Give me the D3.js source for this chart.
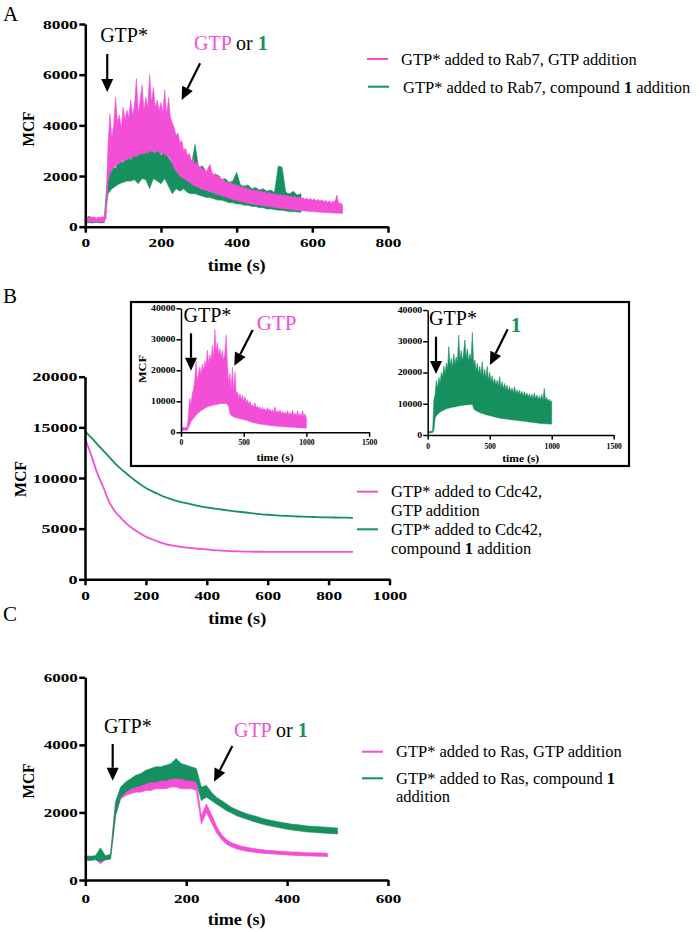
<!DOCTYPE html>
<html><head><meta charset="utf-8">
<script src="https://cdn.jsdelivr.net/npm/d3@7"></script>
<style>body{margin:0;background:#fff} svg text{font-family:"Liberation Serif","DejaVu Serif","Times New Roman",serif !important}</style>
</head><body>
<svg id="fig" width="700" height="932"></svg>
<script>
// ---------------- DATA ----------------
// Panel A (Rab7), noisy traces given as lower / upper envelope per sample
const A_step_pink = 5;   // s
const A_pink_lo = [180,200,170,210,190,180,200,210,170,190,210,320,
1800,2100,2200,2350,2400,2450,2500,2550,2600,2600,2650,2700,2700,2750,2800,2750,2850,2850,2900,2850,2950,2900,3000,2950,3000,2900,3000,2950,2900,2900,2850,2800,2750,2650,
2500,2300,2200,2100,2000,1950,1900,1850,1800,1760,
1700,1640,1600,1580,1550,1490,1480,1440,1430,1400,
1380,1340,1330,1290,1280,1240,1230,1190,1180,1140,
1130,1090,1080,1050,1040,1010,1000,980,970,940,
940,910,900,880,880,860,860,840,840,820,
820,790,790,770,770,750,750,730,730,710,
710,690,690,670,670,650,650,630,640,620,
620,610,610,600,600,590,590,575,580,565,
570,555,560,545,550,535,540,535,540,525,
530];
const A_pink_hi = [380,350,400,360,390,370,340,380,360,400,370,900,
3200,4450,3500,4000,5100,4100,4400,3900,4700,4200,4600,4300,5000,4400,4800,5850,4500,5000,5600,4600,5100,4700,6000,4900,5500,4700,5000,4600,4900,4500,5400,4400,5100,4300,
4100,3900,3600,3700,3300,3400,3000,3100,2800,2900,
2600,2700,2450,2550,2350,2400,2250,2300,2150,2350,
2450,2100,2050,2100,1950,2000,1850,1900,1750,1800,
1700,1750,1650,1700,1600,1650,1550,1600,1500,1550,
1450,1500,1420,1480,1400,1450,1380,1420,1350,1400,
1300,1380,1280,1330,1250,1300,1230,1280,1210,1260,
1190,1240,1170,1220,1150,1200,1130,1180,1100,1150,
1080,1130,1060,1120,1040,1100,1020,1080,1000,1060,
980,1040,960,1020,940,1000,1000,1250,900,950,
850];
const A_step_green = 10; // s
const A_green_lo = [150,160,150,170,150,160,1300,1500,1600,1700,1750,1800,1800,1850,1700,1900,1850,1500,1900,1800,1700,1900,1600,1300,1500,1400,1500,1350,1300,1300,1250,1200,1150,1150,1100,1050,1050,1000,950,950,900,900,850,850,800,800,750,750,700,700,680,650,650,620,600,600,580,570];
const A_green_hi = [300,420,320,300,310,330,2200,2400,2300,2700,2500,3000,2600,3100,2800,3700,3000,3300,2900,3500,2800,3000,2700,2500,2600,2400,2900,2300,2400,3250,2300,2400,2100,2250,2000,2050,1850,1900,1750,1800,2150,1650,1600,1650,1500,1550,1450,1500,1400,1450,1350,2400,2350,1350,1300,1400,1250,1300];

// Panel B main (Cdc42), smooth traces
const B_step = 20; // s
const B_pink  = [13900,12300,10500,9100,7600,6650,6000,5400,4950,4550,4200,3950,3720,3520,3380,3270,3180,3110,3050,3000,2950,2890,2850,2810,2780,2760,2740,2730,2720,2720,2710,2710,2700,2700,2700,2700,2700,2700,2700,2700,2700,2700,2700,2700,2700];
const B_green = [14600,14000,13350,12700,12050,11400,10850,10350,9850,9400,9020,8700,8420,8150,7930,7750,7600,7460,7330,7210,7100,7010,6920,6840,6760,6690,6620,6560,6480,6410,6370,6330,6290,6260,6230,6200,6180,6160,6140,6120,6110,6100,6090,6080,6070];

// Panel B insets (step 10 s)
const INS_step = 10;
const INS_pink_lo = [600,700,500,800,600,700,1500,2500,3500,4000,4500,5000,5500,6000,6300,6600,7000,7200,7500,7800,8000,8200,8300,8500,8600,8700,8800,8900,9000,9000,9100,9200,9200,9300,9300,9350,9300,9000,8300,6000,5500,5200,5000,4800,4700,4600,4500,4400,4300,4200,4100,4000,3900,3800,3600,3500,3300,3200,3100,3000,2900,2800,2700,2700,2600,2500,2500,2400,2400,2300,2300,2200,2200,2100,2100,2000,2000,2000,1900,1900,1900,1800,1800,1800,1700,1700,1700,1700,1600,1600,1600,1600,1500,1500,1500,1500,1400,1400,1400,1400,1300];
const INS_pink_hi = [1500,1300,1700,1400,1800,1500,6000,11000,9000,12500,14000,17000,22800,16500,19000,21000,18500,22000,20000,23000,21000,26500,22000,25000,23000,28000,24000,33200,26000,29000,25000,27000,24000,26500,23000,25500,31400,22000,15800,19000,14000,21000,13000,19600,12500,13000,11000,12500,10500,12000,10000,11500,9500,10500,9000,10000,8500,9000,8000,9500,7800,8500,7500,8200,7000,8000,7200,7600,6800,8000,6900,7500,6500,7300,6400,8200,6300,7000,6200,7200,6000,6800,5900,6500,5800,7000,5600,6400,5500,7200,5400,6200,5300,6900,5200,6000,5100,7000,5000,6000,4500];
const INS_green_lo = [700,800,600,700,800,1500,5500,6200,6600,7000,7300,7600,7800,8000,8200,8400,8500,8600,8700,8800,8900,9000,9000,9100,9200,9300,9400,9400,9500,9500,9600,9600,9700,9700,9800,9800,9900,8500,8000,7800,7600,7400,7200,7000,6900,6800,6600,6500,6400,6300,6200,6100,6000,5900,5800,5700,5600,5500,5400,5400,5300,5200,5200,5100,5100,5000,5000,4900,4900,4800,4800,4700,4700,4600,4600,4500,4500,4400,4400,4300,4300,4200,4200,4100,4100,4000,4000,3900,3900,3800,3800,3700,3700,3700,3600,3600,3600,3500,3500,3500,3500];
const INS_green_hi = [1200,1000,1300,1100,1400,11200,13000,17500,15000,18450,16500,20000,18500,22000,19500,23000,21000,28300,22000,24500,21500,26000,22500,25000,23000,32000,24000,27000,23500,26500,30400,24500,27500,23500,26000,24000,32800,22500,24000,20500,23000,19500,22000,19000,23500,18500,21000,18000,22000,17500,20000,17000,19000,16500,18000,16000,17500,15500,18700,15000,17000,14800,16500,14500,16000,14000,15500,13800,15000,13500,15500,13300,14500,13000,14400,12800,14000,12500,13800,12300,13500,12000,13200,11800,13000,11600,13500,11500,12800,11300,12500,11200,13000,11000,14900,11000,12000,10800,11500,10500,11000];

// Panel C (Ras), step 10 s
const C_step = 10;
const C_pink_lo = [600,580,610,480,600,620,1900,2400,2500,2550,2600,2600,2650,2650,2700,2700,2700,2750,2750,2700,2700,2700,2650,1650,2000,1700,1400,1200,1060,980,920,880,850,830,810,790,780,770,760,750,740,730,720,720,710,710,700,700,690];
const C_pink_hi = [720,700,700,800,700,750,2300,2700,2800,2800,2850,2900,2950,2950,3000,2950,3000,3050,3000,3050,3000,3000,2950,1900,2250,1950,1600,1350,1200,1100,1050,1000,970,940,920,900,880,870,860,850,840,830,830,820,810,810,800,800,790];
const C_green_lo = [600,580,600,550,600,620,1900,2450,2600,2700,2750,2800,2850,2900,2900,2950,2950,3000,3000,3000,2950,2950,2900,2350,2450,2350,2250,2150,2050,1980,1900,1850,1800,1750,1700,1660,1620,1590,1560,1530,1500,1480,1460,1440,1420,1410,1400,1390,1380,1370,1360];
const C_green_hi = [720,700,720,950,720,760,2300,2750,2900,3000,3100,3150,3250,3300,3350,3350,3400,3450,3600,3450,3400,3350,3300,2750,2800,2600,2450,2350,2250,2150,2080,2020,1960,1920,1880,1830,1790,1760,1730,1700,1680,1650,1640,1620,1600,1590,1580,1570,1560,1550,1540];

// Tick values
const A_xTicks = [0,200,400,600,800],  A_yTicks = [0,2000,4000,6000,8000];
const B_xTicks = [0,200,400,600,800,1000], B_yTicks = [0,5000,10000,15000,20000];
const INS_xTicks = [0,500,1000,1500], INS_yTicks = [0,10000,20000,30000,40000];
const C_xTicks = [0,200,400,600], C_yTicks = [0,2000,4000,6000];

// ---------------- DRAWING ----------------
const SERIF = '"Liberation Serif","DejaVu Serif","Times New Roman",serif';
const PINK = "#f24fd6", GREEN = "#17905f";
const svg = d3.select("#fig");

function rows(lo, hi, step){
  const n = Math.min(lo.length, hi.length);
  return d3.range(n).map(i=>({t:i*step, lo:lo[i], hi:hi[i]}));
}

function axes(o){
  const g = svg.append("g");
  const fmt = d3.format("d");
  const xa = g.append("g").attr("transform",`translate(0,${o.sy.range()[0]})`)
    .call(d3.axisBottom(o.sx).tickValues(o.xTicks).tickSize(o.tick).tickSizeOuter(0).tickPadding(o.xPad).tickFormat(fmt));
  const ya = g.append("g").attr("transform",`translate(${o.sx.range()[0]},0)`)
    .call(d3.axisLeft(o.sy).tickValues(o.yTicks).tickSize(o.tick).tickSizeOuter(0).tickPadding(o.yPad).tickFormat(fmt));
  [[xa,o.xdw],[ya,o.ydw]].forEach(([a,dw])=>{
    a.attr("font-family",null).attr("font-size",null);
    a.select(".domain").attr("stroke","#000").attr("stroke-width",o.sw);
    a.selectAll(".tick line").attr("stroke","#000").attr("stroke-width",o.sw);
    a.selectAll(".tick text").style("font-family",SERIF).attr("font-weight","bold")
      .attr("font-size",o.fs).attr("fill","#000")
      .attr("textLength",d=>fmt(d).length*dw).attr("lengthAdjust","spacingAndGlyphs");
  });
  const [x0,x1] = o.sx.range();
  if (o.xTitle) g.append("text").attr("x",(x0+x1)/2).attr("y",o.sy.range()[0]+o.xTitle.dy)
      .attr("text-anchor","middle").style("font-family",SERIF).attr("font-weight","bold")
      .attr("font-size",o.xTitle.fs).attr("textLength",o.xTitle.len).attr("lengthAdjust","spacingAndGlyphs").text("time (s)");
  if (o.yTitle) g.append("text").attr("transform",`translate(${o.yTitle.x},${o.yTitle.y}) rotate(-90)`)
      .attr("text-anchor","middle").attr("dominant-baseline","central").style("font-family",SERIF).attr("font-weight","bold")
      .attr("font-size",o.yTitle.fs).attr("textLength",o.yTitle.len).attr("lengthAdjust","spacingAndGlyphs").text("MCF");
  return g;
}

function band(sx, sy, data, color){
  const area = d3.area().x(d=>sx(d.t)).y0(d=>sy(d.lo)).y1(d=>sy(d.hi));
  svg.append("path").datum(data).attr("d",area).attr("fill",color)
     .attr("stroke",color).attr("stroke-width",0.6).attr("stroke-linejoin","round");
}

function arrow(x1,y1,x2,y2){
  const a = Math.atan2(y2-y1,x2-x1), hl=13, hw=6;
  const bx = x2-hl*Math.cos(a), by = y2-hl*Math.sin(a);
  svg.append("line").attr("x1",x1).attr("y1",y1).attr("x2",bx).attr("y2",by)
     .attr("stroke","#000").attr("stroke-width",2.2);
  svg.append("path").attr("d",`M${x2},${y2}L${bx+hw*Math.sin(a)},${by-hw*Math.cos(a)}L${bx-hw*Math.sin(a)},${by+hw*Math.cos(a)}Z`)
     .attr("fill","#000");
}

function richText(x, y, parts, fs, anchor){
  const t = svg.append("text").attr("x",x).attr("y",y).style("font-family",SERIF)
     .attr("font-size",fs).attr("text-anchor",anchor||"start").attr("fill","#000");
  parts.forEach(p=>{
    const s = t.append("tspan").text(p.t);
    if (p.c) s.attr("fill",p.c);
    if (p.b) s.attr("font-weight","bold");
  });
  return t;
}

function annotate(sx, sy, ann){
  richText(sx(ann.star.t), sy(ann.star.v), [{t:"GTP*"}], ann.fs, "middle");
  arrow(sx(ann.a1[0]),sy(ann.a1[1]),sx(ann.a1[2]),sy(ann.a1[3]));
  richText(sx(ann.add.t), sy(ann.add.v), ann.add.parts, ann.fs2||ann.fs, "middle");
  arrow(sx(ann.a2[0]),sy(ann.a2[1]),sx(ann.a2[2]),sy(ann.a2[3]));
}

function legendEntry(x1,x2,yLine,color,tx,lines){
  svg.append("line").attr("x1",x1).attr("x2",x2).attr("y1",yLine).attr("y2",yLine)
     .attr("stroke",color).attr("stroke-width",2);
  lines.forEach(l=>richText(tx,l.y,l.parts,16.5));
}

function letter(ch,x,y){
  svg.append("text").attr("x",x).attr("y",y).style("font-family",SERIF).attr("font-size",21).text(ch);
}

// ----- Panel A -----
{
  const sx = d3.scaleLinear([0,800],[85.3,388]);
  const sy = d3.scaleLinear([0,8000],[226.7,24]);
  band(sx, sy, rows(A_green_lo, A_green_hi, A_step_green), GREEN);
  band(sx, sy, rows(A_pink_lo, A_pink_hi, A_step_pink), PINK);
  axes({sx,sy,xTicks:A_xTicks,yTicks:A_yTicks,tick:6,sw:2.5,fs:12.5,xdw:8.6,ydw:8.7,xPad:5,yPad:1.5,
        xTitle:{dy:44.5,fs:16,len:58},yTitle:{x:28.8,y:129,fs:16.5,len:35}});
  annotate(sx, sy, {fs:20, star:{t:102.5,v:7290}, a1:[58,6815,58,5315],
     add:{t:384.8,v:6974,parts:[{t:"GTP",c:PINK},{t:" or "},{t:"1",c:GREEN,b:true}]}, a2:[303.5,6450,254.6,5000]});
  letter("A",3,21);
  legendEntry(367,388,59,PINK,401,[{y:65,parts:[{t:"GTP* added to Rab7, GTP addition"}]}]);
  legendEntry(368,389,86.7,GREEN,403,[{y:92.5,parts:[{t:"GTP* added to Rab7, compound "},{t:"1",b:true},{t:" addition"}]}]);
}

// ----- Panel B main -----
{
  const sx = d3.scaleLinear([0,1000],[85,389.5]);
  const sy = d3.scaleLinear([0,20000],[579.3,376.7]);
  const line = d3.line().x((d,i)=>sx(i*B_step)).y(d=>sy(d)).curve(d3.curveMonotoneX);
  svg.append("path").datum(B_green).attr("d",line).attr("fill","none").attr("stroke",GREEN).attr("stroke-width",1.8);
  svg.append("path").datum(B_pink).attr("d",line).attr("fill","none").attr("stroke",PINK).attr("stroke-width",1.8);
  axes({sx,sy,xTicks:B_xTicks,yTicks:B_yTicks,tick:6,sw:2.5,fs:12.5,xdw:8.6,ydw:9,xPad:6,yPad:1.5,
        xTitle:{dy:45,fs:16,len:58},yTitle:{x:20,y:479,fs:16.5,len:36}});
  letter("B",3,303);
  legendEntry(357,378,491.7,PINK,391,[{y:497,parts:[{t:"GTP* added to Cdc42,"}]},{y:516,parts:[{t:"GTP addition"}]}]);
  legendEntry(357,378,529.3,GREEN,391,[{y:534.5,parts:[{t:"GTP* added to Cdc42,"}]},{y:553.5,parts:[{t:"compound "},{t:"1",b:true},{t:" addition"}]}]);
}

// ----- Panel B insets -----
svg.append("rect").attr("x",131).attr("y",302).attr("width",498).attr("height",164)
   .attr("fill","#fff").attr("stroke","#000").attr("stroke-width",2.2);
{
  const sx = d3.scaleLinear([0,1500],[181,369.1]);
  const sy = d3.scaleLinear([0,40000],[432.3,308.3]);
  band(sx, sy, rows(INS_pink_lo, INS_pink_hi, INS_step), PINK);
  axes({sx,sy,xTicks:INS_xTicks,yTicks:INS_yTicks,tick:4.5,sw:1.5,fs:7.5,xdw:3.8,ydw:4.9,xPad:2.5,yPad:1,
        xTitle:{dy:29,fs:10.5,len:37},yTitle:{x:142.3,y:369,fs:11,len:28}});
  annotate(sx, sy, {fs:20, fs2:21, star:{t:211,v:35677}, a1:[79.7,31935,79.7,19870],
     add:{t:763,v:33000,parts:[{t:"GTP",c:PINK}]}, a2:[571.8,33000,425,21484]});
}
{
  const sx = d3.scaleLinear([0,1500],[427.7,613.7]);
  const sy = d3.scaleLinear([0,40000],[435,310]);
  band(sx, sy, rows(INS_green_lo, INS_green_hi, INS_step), GREEN);
  axes({sx,sy,xTicks:INS_xTicks,yTicks:INS_yTicks,tick:4.5,sw:1.5,fs:7.5,xdw:3.8,ydw:4.9,xPad:4.5,yPad:1,
        xTitle:{dy:27.3,fs:10.5,len:37}});
  annotate(sx, sy, {fs:20, fs2:21, star:{t:204,v:35200}, a1:[67,31456,67,19520],
     add:{t:712,v:33056,parts:[{t:"1",c:GREEN,b:true}]}, a2:[645,33824,502,22400]});
}

// ----- Panel C -----
{
  const sx = d3.scaleLinear([0,600],[85.3,388]);
  const sy = d3.scaleLinear([0,6000],[880,677.3]);
  band(sx, sy, rows(C_pink_lo, C_pink_hi, C_step), PINK);
  band(sx, sy, rows(C_green_lo, C_green_hi, C_step), GREEN);
  axes({sx,sy,xTicks:C_xTicks,yTicks:C_yTicks,tick:6,sw:2.5,fs:12.5,xdw:8.5,ydw:8.5,xPad:8,yPad:1.5,
        xTitle:{dy:45,fs:16,len:58},yTitle:{x:28.3,y:781,fs:16.5,len:35}});
  annotate(sx, sy, {fs:20, star:{t:84.3,v:4363}, a1:[54.3,4026,54.3,2940],
     add:{t:367.7,v:4224,parts:[{t:"GTP",c:PINK},{t:" or "},{t:"1",c:GREEN,b:true}]}, a2:[291.4,3967,255.1,2910]});
  letter("C",3,621);
  legendEntry(362,383,751.7,PINK,396,[{y:757,parts:[{t:"GTP* added to Ras, GTP addition"}]}]);
  legendEntry(362,383,778.3,GREEN,396,[{y:784,parts:[{t:"GTP* added to Ras, compound "},{t:"1",b:true}]},{y:802,parts:[{t:"addition"}]}]);
}
</script>
</body></html>
